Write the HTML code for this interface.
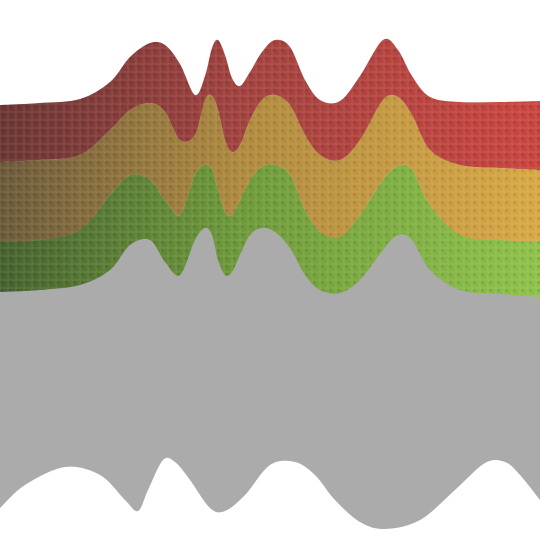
<!DOCTYPE html>
<html><head><meta charset="utf-8">
<style>html,body{margin:0;padding:0;background:#fff;}svg{display:block;}</style>
</head><body>
<svg id="chart" width="540" height="540" viewBox="0 0 540 540" xmlns="http://www.w3.org/2000/svg">
<defs>
<linearGradient id="gRed" x1="0" x2="1" y1="0" y2="0"><stop offset="0" stop-color="#6a3633"/><stop offset="0.45" stop-color="#a2423f"/><stop offset="1" stop-color="#c9453f"/></linearGradient>
<linearGradient id="gYel" x1="0" x2="1" y1="0" y2="0"><stop offset="0" stop-color="#6b5a3a"/><stop offset="0.45" stop-color="#b08a3e"/><stop offset="1" stop-color="#d8a845"/></linearGradient>
<linearGradient id="gGrn" x1="0" x2="1" y1="0" y2="0"><stop offset="0" stop-color="#46622f"/><stop offset="0.45" stop-color="#6e9a3a"/><stop offset="1" stop-color="#8fc24a"/></linearGradient>
<pattern id="tiles" width="8" height="8" patternUnits="userSpaceOnUse"><rect width="8" height="8" fill="none" stroke="rgba(255,255,255,0.12)" stroke-width="1"/><rect x="1" y="1" width="3" height="3" fill="rgba(0,0,0,0.08)"/></pattern>
</defs>
<g id="layer"></g>
</svg>
<script>
// surface profile data (sample columns and heights of each edge)
const xs        = [0, 40, 80, 110, 130, 150, 165, 180, 195, 205, 212, 218, 225, 232, 240, 250, 262, 275, 290, 305, 320, 340, 360, 383, 398, 412, 430, 460, 500, 540];
const topEdge   = [105,103,99, 82,  57,  43,  45,  64,  95,  76,  48,  40,  55,  78,  86,  72,  52,  40,  47,  80,  100, 101, 76,  40,  50,  76,  97,  102, 102, 101];
const redYellow = [162,160,155,130, 110, 103, 112, 140, 135, 100, 96,  110, 140, 152, 145, 120, 100, 95,  105, 135, 155, 160, 140, 100, 97,  115, 150, 165, 168, 170];
const yelGreen  = [242,240,230,195, 175, 180, 200, 215, 175, 165, 170, 190, 212, 215, 200, 180, 167, 165, 175, 210, 232, 237, 215, 180, 166, 170, 205, 235, 240, 242];
const ribbonBot = [292,290,285,270, 245, 240, 262, 275, 240, 228, 235, 260, 275, 272, 255, 235, 228, 232, 248, 275, 290, 293, 280, 250, 235, 240, 270, 290, 294, 297];
const bxs       = [0, 25, 65, 100, 125, 138, 148, 163, 175, 190, 210, 225, 245, 270, 295, 315, 335, 360, 385, 420, 455, 485, 505, 520, 540];
const baseEdge  = [508,485,467,475,500, 511, 490, 460, 462, 480, 508, 511, 495, 465, 462, 475, 500, 522, 529, 520, 490, 463, 462, 475, 500];

function crPath(X, Y, move) {
  let d = (move ? 'M' : 'L') + X[0] + ',' + Y[0];
  for (let i = 0; i < X.length - 1; i++) {
    const x0 = X[Math.max(i-1,0)], y0 = Y[Math.max(i-1,0)];
    const x1 = X[i], y1 = Y[i], x2 = X[i+1], y2 = Y[i+1];
    const x3 = X[Math.min(i+2,X.length-1)], y3 = Y[Math.min(i+2,X.length-1)];
    const c1x = x1 + (x2-x0)/6, c1y = y1 + (y2-y0)/6;
    const c2x = x2 - (x3-x1)/6, c2y = y2 - (y3-y1)/6;
    d += ' C' + c1x.toFixed(1) + ',' + c1y.toFixed(1) + ' ' + c2x.toFixed(1) + ',' + c2y.toFixed(1) + ' ' + x2 + ',' + y2;
  }
  return d;
}
function band(topY, botY) {
  const rx = xs.slice().reverse(), ry = botY.slice().reverse();
  return crPath(xs, topY, true) + ' ' + crPath(rx, ry, false) + ' Z';
}
const NS = 'http://www.w3.org/2000/svg';
const layer = document.getElementById('layer');

const gray = document.createElementNS(NS, 'path');
gray.setAttribute('d', 'M0,220 L540,220 L540,500 ' + crPath(bxs.slice().reverse(), baseEdge.slice().reverse(), false).replace(/^L540,500/, '') + ' Z');
gray.setAttribute('fill', '#ababab');


layer.appendChild(gray);

const bands = [
  [topEdge, redYellow, 'url(#gRed)', 'red-band'],
  [redYellow, yelGreen, 'url(#gYel)', 'yellow-band'],
  [yelGreen, ribbonBot, 'url(#gGrn)', 'green-band']
];
bands.forEach(b => {
  const p = document.createElementNS(NS, 'path');
  p.setAttribute('d', band(b[0], b[1]));
  p.setAttribute('fill', b[2]);
  
  
  layer.appendChild(p);
  const t = document.createElementNS(NS, 'path');
  t.setAttribute('d', band(b[0], b[1]));
  t.setAttribute('fill', 'url(#tiles)');
  
  
  layer.appendChild(t);
});
</script>
</body></html>
